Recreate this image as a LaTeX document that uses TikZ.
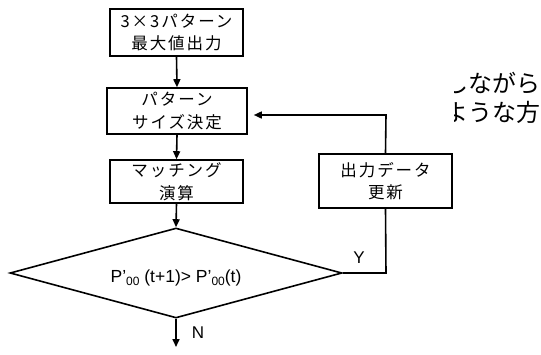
\documentclass[tikz,border=0pt]{standalone}
\usepackage{fontspec}
\setmainfont{Liberation Sans}
\newfontfamily\jpfont[LetterSpace=12]{Noto Sans CJK JP}
\newfontfamily\jpside{Noto Sans CJK JP}
\newcommand{\zsub}{\raisebox{-3pt}{\fontsize{12}{12}\selectfont 00}}
\usetikzlibrary{shapes.geometric,arrows.meta}
\begin{document}
\begin{tikzpicture}[x=1pt,y=-1pt,
  box/.style={draw,line width=1.6pt,rectangle,inner sep=0pt,align=center,
    font=\jpfont\fontsize{16.5}{22.5}\selectfont},
  conn/.style={line width=1.6pt},
  arr/.style={conn,-{Triangle[length=8pt,width=7pt]}},
  lbl/.style={font=\fontsize{17}{20}\selectfont,inner sep=0pt}]
\useasboundingbox (0,0) rectangle (541,354);
\node[box,minimum width=133pt,minimum height=47pt] (b1) at (176.5,32.5) {3×3パターン\\最大値出力};
\node[box,minimum width=140pt,minimum height=46pt] (b2) at (177,111) {パターン\\サイズ決定};
\node[box,minimum width=133pt,minimum height=43pt] (b3) at (176.5,181.5) {マッチング\\演算};
\node[box,minimum width=133pt,minimum height=54pt] (b4) at (385.5,181) {出力データ\\更新};
\node[draw,diamond,line width=1.6pt,minimum width=332pt,minimum height=90pt,inner sep=0pt] (d) at (176,273) {};
\node[inner sep=0pt,font=\fontsize{17.5}{20}\selectfont] (dt) at (176,278) {P’\zsub{} (t+1)> P’\zsub(t)};
\coordinate (nend) at (176,347);
\coordinate (yc) at (386,273);
\coordinate (fc) at (386,115);
\draw[arr] (b1.south) -- (b2.north);
\draw[arr] (b2.south) -- (b3.north);
\draw[arr] (b3.south) -- (d.north);
\draw[arr] (d.south) -- (nend);
\draw[conn] (d.east) -- (yc) -- (b4.south);
\draw[arr,shorten >=6pt] (b4.north) -- (fc) -- (b2.east |- fc);
\node[lbl] (N) at (198,333) {N};
\node[lbl] (Y) at (359,258) {Y};
\begin{scope}
\clip (454,60) rectangle (541,130);
\node[anchor=base east,inner sep=0pt,font=\jpside\fontsize{24}{24}\selectfont] (t1) at (541,92) {しながら};
\node[anchor=base east,inner sep=0pt,font=\jpside\fontsize{24}{24}\selectfont] (t2) at (541,121) {ような方};
\end{scope}
\end{tikzpicture}
\end{document}
